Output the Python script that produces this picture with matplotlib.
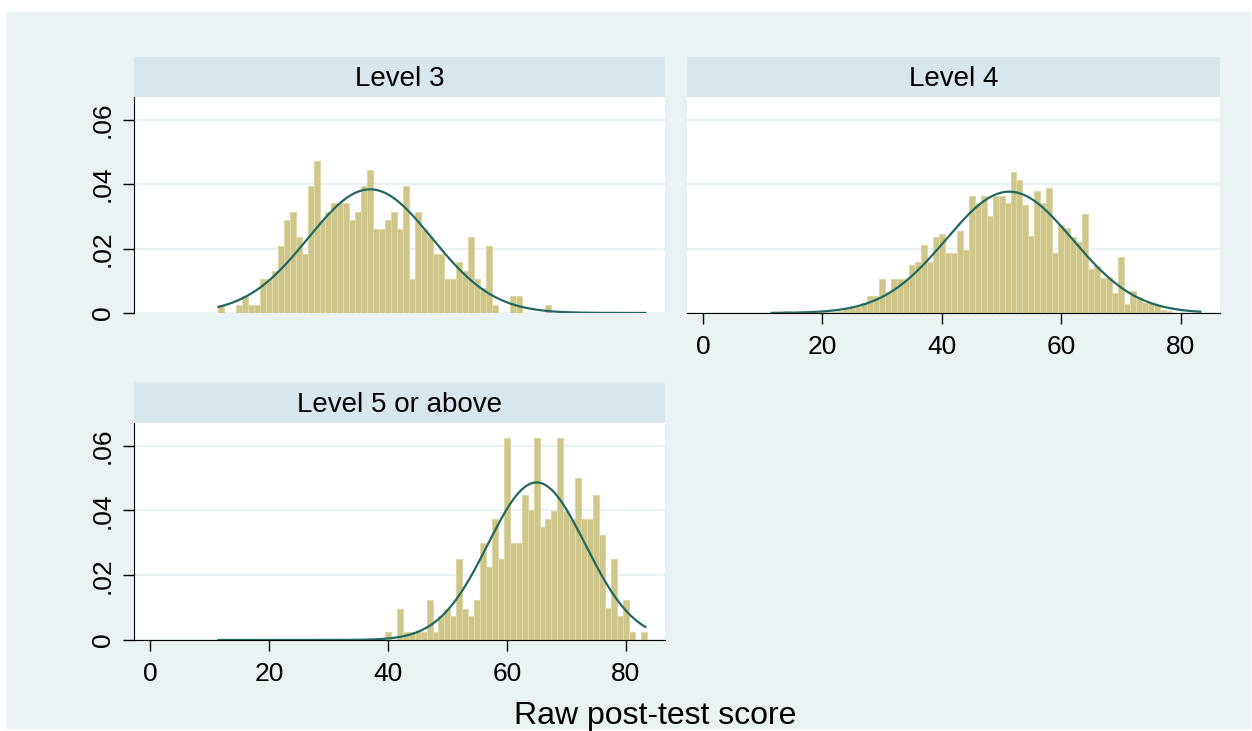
import numpy as np
import matplotlib
matplotlib.use("Agg")
import matplotlib.pyplot as plt
from matplotlib.patches import Rectangle

plt.rcParams['font.family'] = ['Liberation Sans', 'DejaVu Sans']

# score values (bin centres, width 1) and densities
l3_scores = [12, 15, 16, 17, 18, 19, 20, 21, 22, 23, 24, 25, 26, 27, 28, 29, 30,
             31, 32, 33, 34, 35, 36, 37, 38, 39, 40, 41, 42, 43, 44, 45, 46, 47,
             48, 49, 50, 51, 52, 53, 54, 55, 56, 57, 58, 61, 62, 67]
l3_density = [.0026, .0026, .0052, .0026, .0026, .0105, .0105, .0131, .0209, .0288,
              .0314, .0236, .0183, .0393, .0471, .0288, .0314, .0340, .0340, .0340,
              .0288, .0314, .0393, .0445, .0262, .0262, .0288, .0314, .0262, .0393,
              .0105, .0314, .0262, .0236, .0183, .0183, .0105, .0105, .0157, .0131,
              .0236, .0105, .0079, .0209, .0026, .0052, .0052, .0026]

l4_scores = [14, 18, 20, 21, 22, 23, 24, 25, 26, 27, 28, 29, 30, 31, 32, 33, 34,
             35, 36, 37, 38, 39, 40, 41, 42, 43, 44, 45, 46, 47, 48, 49, 50, 51,
             52, 53, 54, 55, 56, 57, 58, 59, 60, 61, 62, 63, 64, 65, 66, 67, 68,
             69, 70, 71, 72, 73, 74, 75, 76, 77, 78]
l4_density = [.0007, .0007, .0007, .0004, .0004, .0007, .0011, .0014, .0018, .0030,
              .0053, .0053, .0105, .0066, .0105, .0105, .0105, .0148, .0159, .0210,
              .0159, .0236, .0246, .0185, .0185, .0255, .0195, .0362, .0340, .0362,
              .0300, .0362, .0362, .0340, .0437, .0413, .0336, .0238, .0377, .0340,
              .0387, .0185, .0272, .0264, .0236, .0220, .0308, .0138, .0145, .0110,
              .0112, .0062, .0174, .0027, .0069, .0050, .0030, .0030, .0025, .0010,
              .0005]

l5_scores = [40, 42, 43, 44, 45, 46, 47, 48, 49, 50, 51, 52, 53, 54, 55, 56, 57,
             58, 59, 60, 61, 62, 63, 64, 65, 66, 67, 68, 69, 70, 71, 72, 73, 74,
             75, 76, 77, 78, 79, 80, 81, 83]
l5_density = [.0026, .0097, .0026, .0026, .0026, .0026, .0124, .0026, .0073, .0097,
              .0073, .0249, .0097, .0073, .0124, .0298, .0225, .0375, .0249, .0624,
              .0298, .0298, .0448, .0401, .0624, .0350, .0375, .0399, .0624, .0399,
              .0375, .0500, .0375, .0375, .0448, .0323, .0098, .0249, .0075, .0124,
              .0026, .0026]

panel_titles = ["Level 3", "Level 4", "Level 5 or above"]
curve_mean = [37.0, 51.3, 65.0]
curve_sd = [10.4, 10.6, 8.2]
curve_range = (11.5, 83.3)

xticks = [0, 20, 40, 60, 80]
yticks = [0, .02, .04, .06]
ytick_labels = ["0", ".02", ".04", ".06"]

BG = "#EAF2F3"
STRIP = "#D9E6EB"
BAR = "#CFC68A"
BAR_EDGE = "#DDD8A8"
LINE = "#24685F"

W, H = 1252, 731
fig = plt.figure(figsize=(W / 100, H / 100), dpi=100)
fig.patch.set_facecolor("white")
fig.patches.append(Rectangle((7 / W, 1 - 728 / H), 1243 / W, 716 / H,
                             transform=fig.transFigure, color=BG, zorder=-10))


def px_box(x0, y0, x1, y1):
    return [x0 / W, 1 - y1 / H, (x1 - x0) / W, (y1 - y0) / H]


panels = [
    (px_box(134, 97, 665, 313), px_box(134, 57, 665, 97), l3_scores, l3_density, True, False),
    (px_box(687, 97, 1220, 313), px_box(687, 57, 1220, 97), l4_scores, l4_density, False, True),
    (px_box(134, 423, 665, 640), px_box(134, 383, 665, 423), l5_scores, l5_density, True, True),
]

xs = np.linspace(curve_range[0], curve_range[1], 300)

for i, (box, sbox, sc, dens, show_y, show_x) in enumerate(panels):
    ax = fig.add_axes(box)
    ax.set_facecolor("white")
    ax.bar(sc, dens, width=1.0, color=BAR, edgecolor=BAR_EDGE, linewidth=0.8, zorder=2)
    m, s = curve_mean[i], curve_sd[i]
    ys = np.exp(-0.5 * ((xs - m) / s) ** 2) / (s * np.sqrt(2 * np.pi))
    ax.plot(xs, ys, color=LINE, lw=1.6, zorder=3)

    ax.set_xlim(-2.7, 86.6)
    ax.set_ylim(0, 0.0670)
    ax.set_yticks(yticks)
    ax.set_xticks(xticks)
    ax.yaxis.grid(True, color=BG, lw=1.6, zorder=0)
    ax.set_axisbelow(True)
    for sp in ax.spines.values():
        sp.set_visible(False)

    if show_y:
        ax.spines["left"].set_visible(True)
        ax.spines["left"].set_color("black")
        ax.set_yticklabels(ytick_labels, rotation=90, va="center", fontsize=19)
        ax.tick_params(axis="y", length=8, width=1, pad=6)
    else:
        ax.tick_params(axis="y", left=False, labelleft=False)

    if show_x:
        ax.spines["bottom"].set_visible(True)
        ax.spines["bottom"].set_color("black")
        ax.set_xticklabels([str(t) for t in xticks], fontsize=19)
        ax.tick_params(axis="x", length=8, width=1, pad=8)
    else:
        ax.tick_params(axis="x", bottom=False, labelbottom=False)

    sax = fig.add_axes(sbox)
    sax.set_facecolor(STRIP)
    sax.set_xticks([])
    sax.set_yticks([])
    for sp in sax.spines.values():
        sp.set_visible(False)
    sax.text(0.5, 0.45, panel_titles[i], ha="center", va="center", fontsize=20,
             transform=sax.transAxes)

fig.text(655 / W, 1 - 716 / H, "Raw post-test score", ha="center", va="center", fontsize=23)

fig.savefig("out.png", dpi=100, facecolor=fig.get_facecolor())
